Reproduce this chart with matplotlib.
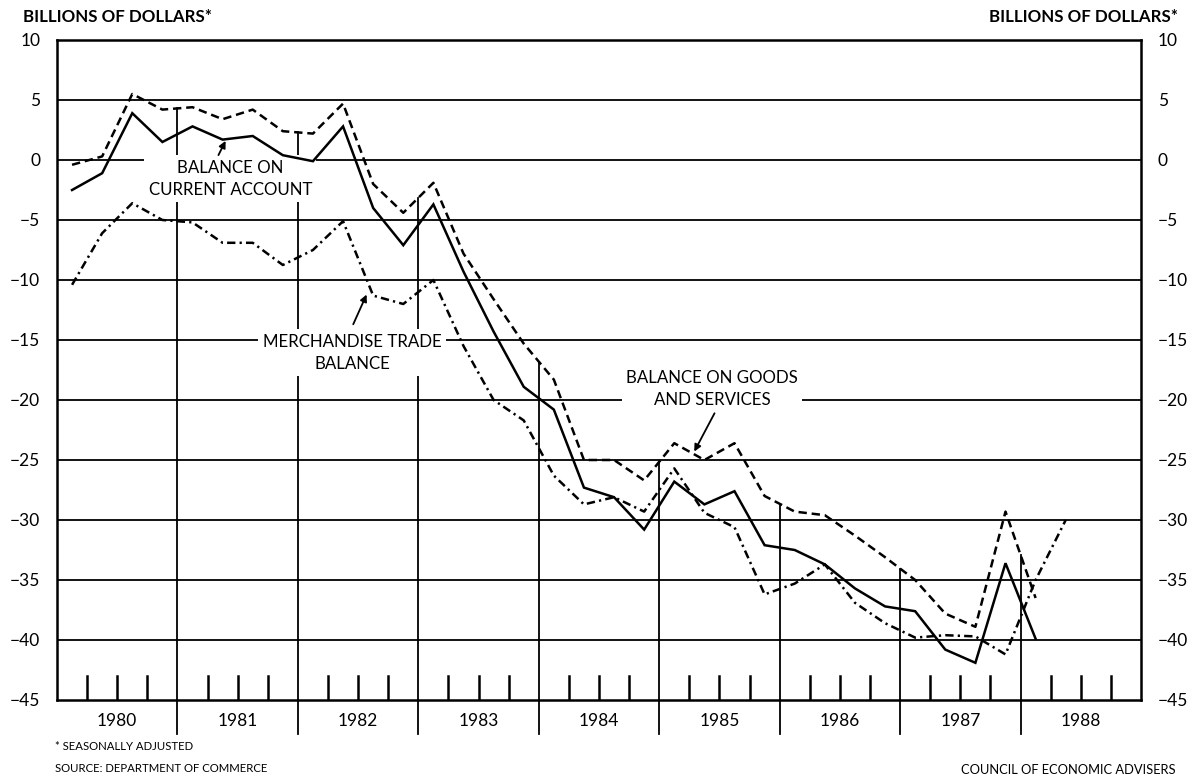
import matplotlib
matplotlib.use("Agg")
import matplotlib.pyplot as plt
import numpy as np

plt.rcParams['font.family'] = ['Lato', 'DejaVu Sans']
plt.rcParams['lines.scale_dashes'] = False

# ---- data (quarterly, seasonally adjusted, billions of dollars) ----
years = list(range(1980, 1989))
year_labels = [str(y) for y in years]
y_ticks = [10, 5, 0, -5, -10, -15, -20, -25, -30, -35, -40, -45]

# 1980Q1 .. 1988Q1
current_account = [-2.5, -1.1, 3.9, 1.5,
                   2.8, 1.7, 2.0, 0.4,
                   -0.1, 2.8, -4.0, -7.1,
                   -3.7, -9.3, -14.3, -18.9,
                   -20.8, -27.3, -28.1, -30.8,
                   -26.8, -28.7, -27.6, -32.1,
                   -32.5, -33.7, -35.7, -37.2,
                   -37.6, -40.8, -41.9, -33.6,
                   -39.9]
# 1980Q1 .. 1988Q1
goods_services = [-0.4, 0.3, 5.5, 4.2,
                  4.4, 3.4, 4.2, 2.4,
                  2.2, 4.7, -2.0, -4.4,
                  -1.9, -7.8, -11.6, -15.3,
                  -18.3, -25.0, -25.0, -26.7,
                  -23.6, -25.0, -23.6, -28.0,
                  -29.3, -29.6, -31.3, -33.1,
                  -35.0, -37.8, -38.9, -29.3,
                  -36.5]
# 1980Q1 .. 1988Q2
merchandise = [-10.4, -6.1, -3.6, -5.0,
               -5.2, -6.9, -6.9, -8.75,
               -7.5, -5.1, -11.3, -12.0,
               -10.0, -15.5, -20.0, -21.7,
               -26.3, -28.7, -28.1, -29.3,
               -25.7, -29.4, -30.6, -36.2,
               -35.3, -33.7, -36.9, -38.6,
               -39.8, -39.6, -39.7, -41.2,
               -35.0, -30.0]


def qpos(n):
    return 1980 + (np.arange(n) + 0.5) / 4.0


W, H = 1193, 777
fig = plt.figure(figsize=(W / 100, H / 100), dpi=100)
L, R, T, B = 57, 1141, 40, 700
ax = fig.add_axes([L / W, 1 - B / H, (R - L) / W, (B - T) / H])
ax.set_xlim(1980, 1989)
ax.set_ylim(-45, 10)

lw_grid = 1.3
# horizontal grid
for v in y_ticks:
    if -45 < v < 10:
        ax.axhline(v, color='black', lw=lw_grid, zorder=1)

series_x = [qpos(len(current_account)), qpos(len(goods_services)), qpos(len(merchandise))]
series_y = [current_account, goods_services, merchandise]

# year separators: from top curve down through the axis into label area
for yr in years[1:]:
    tops = []
    for xs, ys in zip(series_x, series_y):
        if xs[0] <= yr <= xs[-1]:
            tops.append(np.interp(yr, xs, ys))
    top = max(tops)
    ax.plot([yr, yr], [-45, top], color='black', lw=lw_grid, zorder=1)
    ax.plot([yr, yr], [-45, -47.8], color='black', lw=lw_grid, zorder=1, clip_on=False)

# quarter ticks
for yr in years:
    for q in (1, 2, 3):
        ax.plot([yr + q / 4, yr + q / 4], [-45, -43], color='black', lw=1.8, zorder=2)

# series
ax.plot(series_x[0], current_account, color='black', lw=1.8, zorder=4,
        solid_joinstyle='miter')
ax.plot(series_x[1], goods_services, color='black', lw=1.8, zorder=4,
        dashes=(6, 3.5))
ax.plot(series_x[2], merchandise, color='black', lw=1.8, zorder=4,
        dashes=(6, 3, 1.6, 3))

for s in ax.spines.values():
    s.set_linewidth(1.8)

ax.set_xticks([])
ax.set_yticks(y_ticks)
ax.set_yticklabels([str(v).replace('-', '\u2212') for v in y_ticks])
ax.tick_params(axis='y', length=0, labelsize=12.5, pad=12,
               left=True, right=True, labelleft=True, labelright=True)

# year labels
for yr, lab in zip(years, year_labels):
    ax.text(yr + 0.5, -46.75, lab, ha='center', va='center', fontsize=12.5,
            clip_on=False)

bbox = dict(facecolor='white', edgecolor='none', pad=3)
ax.text(1981.44, -1.55, 'BALANCE ON\nCURRENT ACCOUNT', ha='center', va='center',
        fontsize=12.2, linespacing=1.45, zorder=3, bbox=bbox)
ax.annotate('', xy=(1981.41, 1.8), xytext=(1981.33, 0.2),
            arrowprops=dict(arrowstyle='-|>', color='black', lw=1.3,
                            mutation_scale=10), zorder=5)

ax.text(1982.45, -16.05, 'MERCHANDISE TRADE\nBALANCE', ha='center', va='center',
        fontsize=12.2, linespacing=1.45, zorder=3, bbox=bbox)
ax.annotate('', xy=(1982.58, -11.0), xytext=(1982.45, -13.9),
            arrowprops=dict(arrowstyle='-|>', color='black', lw=1.3,
                            mutation_scale=10), zorder=5)

ax.text(1985.44, -19.1, 'BALANCE ON GOODS\nAND SERVICES', ha='center', va='center',
        fontsize=12.2, linespacing=1.45, zorder=3, bbox=bbox)
ax.annotate('', xy=(1985.28, -24.5), xytext=(1985.47, -20.9),
            arrowprops=dict(arrowstyle='-|>', color='black', lw=1.3,
                            mutation_scale=10), zorder=5)

fig.text(23 / W, 1 - 17 / H, 'BILLIONS OF DOLLARS*', ha='left', va='center',
         fontsize=12.2, fontweight='bold')
fig.text(1178 / W, 1 - 17 / H, 'BILLIONS OF DOLLARS*', ha='right', va='center',
         fontsize=12.2, fontweight='bold')
fig.text(55 / W, 1 - 747 / H, '* SEASONALLY ADJUSTED', ha='left', va='center',
         fontsize=8.2)
fig.text(55 / W, 1 - 768 / H, 'SOURCE: DEPARTMENT OF COMMERCE', ha='left',
         va='center', fontsize=8.2)
fig.text(1176 / W, 1 - 770 / H, 'COUNCIL OF ECONOMIC ADVISERS', ha='right',
         va='center', fontsize=9.3)

fig.savefig('out.png', dpi=100, facecolor='white')
